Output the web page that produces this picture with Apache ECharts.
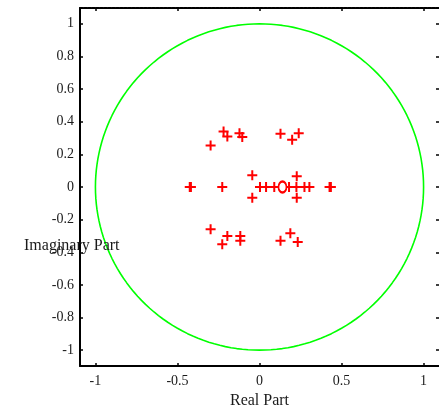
<!DOCTYPE html>
<html>
<head>
<meta charset="utf-8">
<script src="https://cdn.jsdelivr.net/npm/echarts@6/dist/echarts.min.js"></script>
<style>
html,body{margin:0;padding:0;background:#fff;}
#chart{width:439px;height:414px;}
</style>
</head>
<body>
<div id="chart"></div>
<script>
// Tick labels
const xTicks = [-1, -0.5, 0, 0.5, 1];
const yTicks = [-1, -0.8, -0.6, -0.4, -0.2, 0, 0.2, 0.4, 0.6, 0.8, 1];

// Poles (drawn as "+")
const poleRe = [
  -0.219, -0.196, -0.298, -0.122, -0.105, 0.128, 0.239, 0.199,
  -0.298, -0.196, -0.227, -0.117, -0.117, 0.128, 0.188, 0.233,
  -0.425, -0.418, -0.227, 0.003, 0.040, 0.090, 0.180, 0.225, 0.274, 0.304, 0.427, 0.435,
  -0.044, -0.044, 0.227, 0.227
];
const poleIm = [
  0.340, 0.310, 0.255, 0.330, 0.306, 0.326, 0.330, 0.290,
  -0.259, -0.300, -0.351, -0.300, -0.330, -0.330, -0.284, -0.337,
  0, 0, 0, 0, 0, 0, 0, 0, 0, 0, 0, 0,
  0.072, -0.066, 0.066, -0.066
];

// Zeros ("O")
const zeroRe = [0.14];
const zeroIm = [0];

// Reference unit circle
const unitCircle = [];
for (let a = 0; a <= 360; a += 2) {
  const t = a * Math.PI / 180;
  unitCircle.push([Math.cos(t), Math.sin(t)]);
}

const poles = poleRe.map((v, i) => [v, poleIm[i]]);
const zeros = zeroRe.map((v, i) => [v, zeroIm[i]]);

const font = 'Liberation Serif';
const fmt = v => String(Math.round(v * 10) / 10);

const chart = echarts.init(document.getElementById('chart'), null, {renderer: 'canvas'});
chart.setOption({
  animation: false,
  backgroundColor: '#ffffff',
  grid: {left: 80, top: 8, width: 360, height: 360, containLabel: false},
  xAxis: [{
    type: 'value', min: -1.094, max: 1.094, position: 'bottom',
    axisLine: {show: true, onZero: false, lineStyle: {color: '#000', width: 2}},
    axisTick: {show: true, inside: true, length: 3, customValues: xTicks, lineStyle: {color: '#000', width: 1.5}},
    axisLabel: {customValues: xTicks, formatter: fmt, margin: 8, fontFamily: font, fontSize: 14, color: '#1a1a1a'},
    splitLine: {show: false},
    name: 'Real Part', nameLocation: 'middle', nameGap: 27,
    nameTextStyle: {fontFamily: font, fontSize: 16, color: '#1a1a1a'}
  }, {
    type: 'value', min: -1.094, max: 1.094, position: 'top',
    axisLine: {show: true, onZero: false, lineStyle: {color: '#000', width: 2, type: [3, 1]}},
    axisTick: {show: true, inside: true, length: 3, customValues: xTicks, lineStyle: {color: '#000', width: 1.5}},
    axisLabel: {show: false},
    splitLine: {show: false}
  }],
  yAxis: [{
    type: 'value', min: -1.097, max: 1.097, position: 'left',
    axisLine: {show: true, onZero: false, lineStyle: {color: '#000', width: 2}},
    axisTick: {show: true, inside: true, length: 3, customValues: yTicks, lineStyle: {color: '#000', width: 1.5}},
    axisLabel: {customValues: yTicks, formatter: fmt, margin: 6, fontFamily: font, fontSize: 14, color: '#1a1a1a'},
    splitLine: {show: false}
  }, {
    type: 'value', min: -1.097, max: 1.097, position: 'right',
    axisLine: {show: false, onZero: false},
    axisTick: {show: true, inside: true, length: 3, customValues: yTicks, lineStyle: {color: '#000', width: 1.5}},
    axisLabel: {show: false},
    splitLine: {show: false}
  }],
  graphic: [{
    type: 'text', left: 24, top: 238,
    style: {text: 'Imaginary Part', fontFamily: font, fontSize: 16, fill: '#1a1a1a'},
    z: 100
  }],
  series: [{
    type: 'line', data: unitCircle, showSymbol: false, smooth: false,
    lineStyle: {color: '#00ff00', width: 1.6}, z: 2, silent: true
  }, {
    type: 'scatter', data: poles,
    symbol: 'path://M4,0H6V4H10V6H6V10H4V6H0V4H4Z', symbolSize: 10,
    itemStyle: {color: '#ff0000', opacity: 1}, z: 3
  }, {
    type: 'scatter', data: zeros,
    symbol: 'emptyCircle', symbolSize: [8, 11],
    itemStyle: {color: '#ff0000', borderColor: '#ff0000', borderWidth: 1.6, opacity: 1}, z: 4
  }]
});
</script>
</body>
</html>
